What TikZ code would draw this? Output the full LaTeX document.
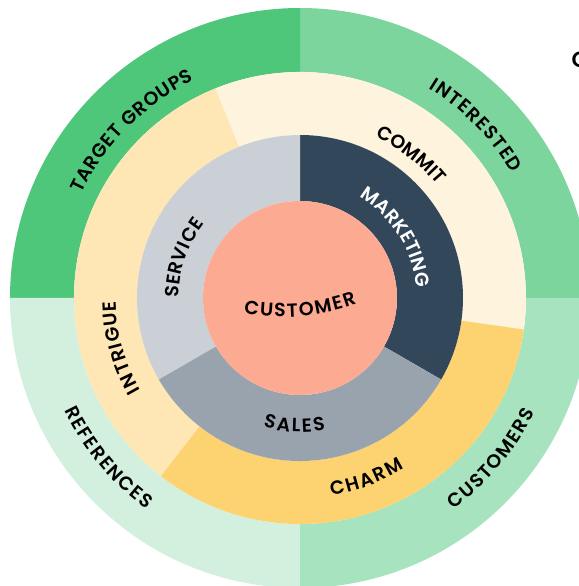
\documentclass[tikz,border=0pt]{standalone}
\usepackage{fontspec}
\setmainfont{Poppins}
\newfontfamily\ringfamily{Poppins}[UprightFont=* SemiBold]
\newcommand\ringfont{\ringfamily\fontsize{19}{22}\selectfont}
\usetikzlibrary{decorations.text}

\definecolor{customer}{HTML}{FDAA92}
\definecolor{marketing}{HTML}{33475B}
\definecolor{service}{HTML}{CBD0D6}
\definecolor{sales}{HTML}{99A3AE}
\definecolor{commit}{HTML}{FEF3DD}
\definecolor{intrigue}{HTML}{FEE6B5}
\definecolor{charm}{HTML}{FDD270}
\definecolor{targets}{HTML}{4FC77A}
\definecolor{interested}{HTML}{7DD59E}
\definecolor{customers}{HTML}{A6E3BE}
\definecolor{references}{HTML}{D3F0DF}

% colour, from angle, to angle, inner radius, outer radius
\newcommand\ringpart[5]{\fill[#1] (#2:#4) arc[start angle=#2,end angle=#3,radius=#4]
  -- (#3:#5) arc[start angle=#3,end angle=#2,radius=#5] -- cycle;}
% label spread along an arc: [colour] radius, from angle, to angle, text
\newcommand\arclabel[5][black]{\path[decorate,decoration={text along path,text align={fit to path},
  text={|\ringfont\color{#1}|#5}}] (#3:#2) arc[start angle=#3,end angle=#4,radius=#2];}

\begin{document}
\begin{tikzpicture}[x=1pt,y=1pt]
\useasboundingbox (-300,-288) rectangle (278,298);
\ringpart{interested}{0}{90}{226}{290}
\ringpart{targets}{90}{180}{226}{290}
\ringpart{references}{180}{270}{226}{290}
\ringpart{customers}{270}{360}{226}{290}
\ringpart{commit}{-8}{112}{163}{226}
\ringpart{intrigue}{112}{232}{163}{226}
\ringpart{charm}{232}{352}{163}{226}
\ringpart{marketing}{-30}{90}{97}{163}
\ringpart{service}{90}{210}{97}{163}
\ringpart{sales}{210}{330}{97}{163}
\fill[customer] (0,0) circle[radius=97];
\arclabel{242}{154.5}{116}{TARGET GROUPS}
\arclabel{246}{58.5}{30.5}{INTERESTED}
\arclabel{261}{-54}{-26}{CUSTOMERS}
\arclabel{261}{205.5}{234}{REFERENCES}
\arclabel{178}{65}{39.5}{COMMIT}
\arclabel{184}{210}{181}{INTRIGUE}
\arclabel{200}{-81}{-58.5}{CHARM}
\arclabel[white]{117}{59.5}{5}{MARKETING}
\arclabel{121}{180}{142}{SERVICE}
\arclabel{134}{-106}{-79}{SALES}
\begin{scope}[shift={(-17,197)}]
\arclabel{216}{-100.5}{-70}{CUSTOMER}
\end{scope}
\node[font=\ringfamily\fontsize{22}{26}\selectfont,anchor=west,inner sep=0] (cue) at (271.5,238) {C};
\end{tikzpicture}
\end{document}
